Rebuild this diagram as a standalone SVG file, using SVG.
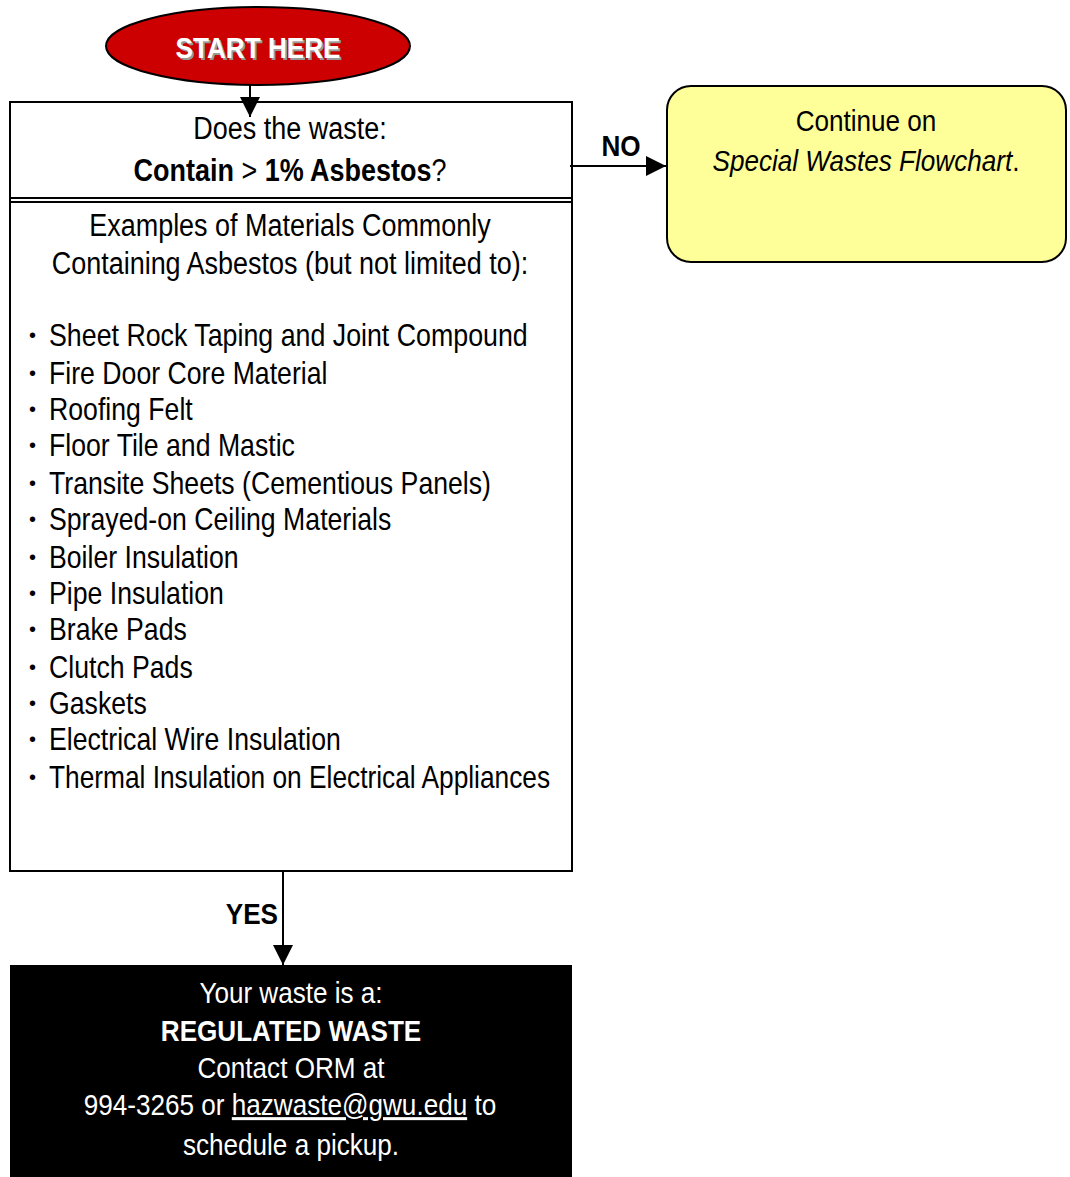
<svg xmlns="http://www.w3.org/2000/svg" width="1070" height="1177" viewBox="0 0 1070 1177">
<style>
text{font-family:"Liberation Sans Narrow","Liberation Sans",Arial,sans-serif;fill:#000;font-size:31px}
.m{font-size:30px}
.c{text-anchor:middle}
.b{font-weight:bold}
.w{fill:#fff}
.bu{font-size:20px}
.ln{stroke:#000;stroke-width:2;fill:none}
</style>
<defs>
<marker id="ah" markerWidth="20" markerHeight="20" refX="20" refY="10" orient="auto" markerUnits="userSpaceOnUse" viewBox="0 0 20 20">
<path d="M0,0 L20,10 L0,20 Z" fill="#000"/>
</marker>
</defs>
<g id="start">
<ellipse cx="258" cy="46" rx="152" ry="39" fill="#CC0000" stroke="#000" stroke-width="2"/>
<text transform="translate(260,60) scale(.87,1)" class="m c b" style="fill:#999">START HERE</text>
<text transform="translate(258,58) scale(.87,1)" class="m c b w">START HERE</text>
</g>
<g id="question">
<rect x="10" y="102" width="562" height="769" fill="#fff" stroke="#000" stroke-width="2"/>
<line x1="10" y1="198" x2="572" y2="198" class="ln"/>
<line x1="10" y1="202" x2="572" y2="202" class="ln"/>
<text transform="translate(290,139) scale(.87,1)" class="c">Does the waste:</text>
<text transform="translate(290,181) scale(.87,1)" class="c"><tspan class="b">Contain</tspan> &gt; <tspan class="b">1% Asbestos</tspan>?</text>
<text transform="translate(290,236) scale(.87,1)" class="c">Examples of Materials Commonly</text>
<text transform="translate(290,274) scale(.87,1)" class="c">Containing Asbestos (but not limited to):</text>
<g id="bullets" class="bu">
<text x="29" y="342" class="bu">•</text>
<text x="29" y="380" class="bu">•</text>
<text x="29" y="416" class="bu">•</text>
<text x="29" y="452" class="bu">•</text>
<text x="29" y="490" class="bu">•</text>
<text x="29" y="526" class="bu">•</text>
<text x="29" y="564" class="bu">•</text>
<text x="29" y="600" class="bu">•</text>
<text x="29" y="636" class="bu">•</text>
<text x="29" y="674" class="bu">•</text>
<text x="29" y="710" class="bu">•</text>
<text x="29" y="746" class="bu">•</text>
<text x="29" y="784" class="bu">•</text>
</g>
<g id="list">
<text transform="translate(49,346) scale(.864,1)">Sheet Rock Taping and Joint Compound</text>
<text transform="translate(49,384) scale(.86,1)">Fire Door Core Material</text>
<text transform="translate(49,420) scale(.86,1)">Roofing Felt</text>
<text transform="translate(49,456) scale(.86,1)">Floor Tile and Mastic</text>
<text transform="translate(49,494) scale(.86,1)">Transite Sheets (Cementious Panels)</text>
<text transform="translate(49,530) scale(.86,1)">Sprayed-on Ceiling Materials</text>
<text transform="translate(49,568) scale(.86,1)">Boiler Insulation</text>
<text transform="translate(49,604) scale(.86,1)">Pipe Insulation</text>
<text transform="translate(49,640) scale(.86,1)">Brake Pads</text>
<text transform="translate(49,678) scale(.86,1)">Clutch Pads</text>
<text transform="translate(49,714) scale(.86,1)">Gaskets</text>
<text transform="translate(49,750) scale(.86,1)">Electrical Wire Insulation</text>
<text transform="translate(49,788) scale(.848,1)">Thermal Insulation on Electrical Appliances</text>
</g>
</g>
<g id="special">
<rect x="667" y="86" width="399" height="176" rx="24" ry="24" fill="#FFFF99" stroke="#000" stroke-width="2"/>
<text transform="translate(866,131) scale(.87,1)" class="m c">Continue on</text>
<text transform="translate(866,171) scale(.87,1)" class="m c"><tspan font-style="italic">Special Wastes Flowchart</tspan>.</text>
</g>
<g id="regulated">
<rect x="10" y="965" width="562" height="212" fill="#000"/>
<text transform="translate(291,1003) scale(.87,1)" class="m c w">Your waste is a:</text>
<text transform="translate(291,1041) scale(.87,1)" class="m c w b">REGULATED WASTE</text>
<text transform="translate(291,1078) scale(.87,1)" class="m c w">Contact ORM at</text>
<text transform="translate(290,1115) scale(.87,1)" class="m c w">994-3265 or <tspan text-decoration="underline">hazwaste@gwu.edu</tspan> to</text>
<text transform="translate(291,1155) scale(.87,1)" class="m c w">schedule a pickup.</text>
</g>
<g id="connectors">
<line x1="250" y1="85" x2="250" y2="117" class="ln" marker-end="url(#ah)"/>
<line x1="570" y1="166" x2="666" y2="166" class="ln" marker-end="url(#ah)"/>
<text transform="translate(621,156) scale(.87,1)" class="m c b">NO</text>
<line x1="283" y1="871" x2="283" y2="965" class="ln" marker-end="url(#ah)"/>
<text transform="translate(278,924) scale(.87,1)" class="m b" text-anchor="end">YES</text>
</g>
</svg>
